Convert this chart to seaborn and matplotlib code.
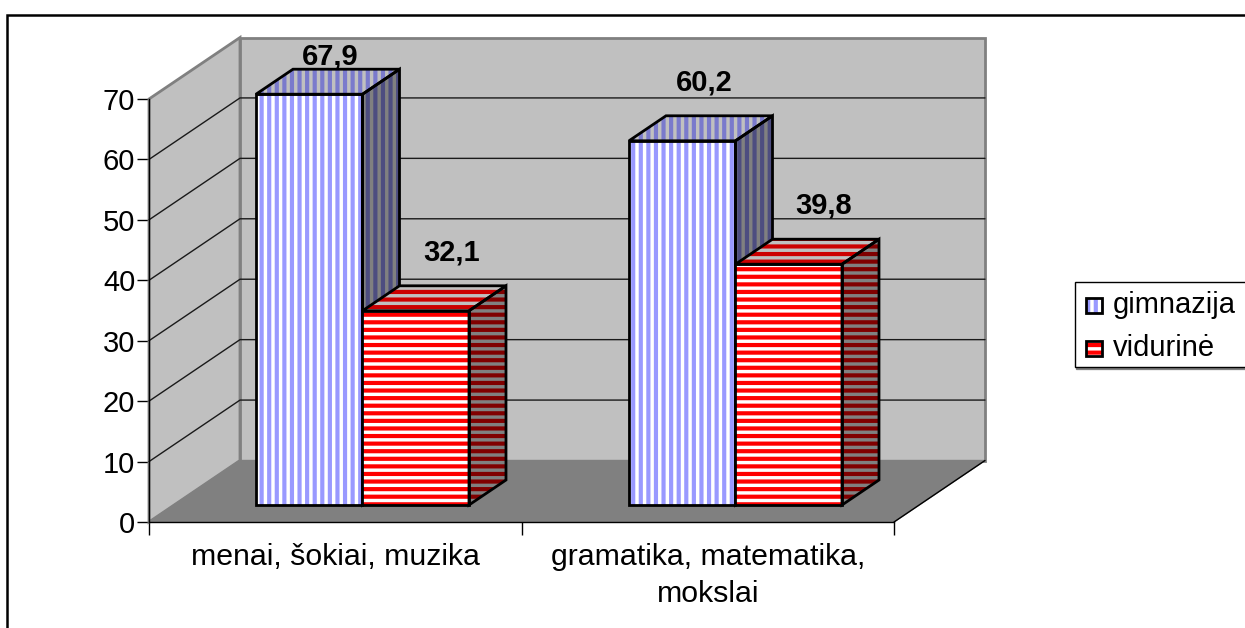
import matplotlib
matplotlib.use("Agg")
import matplotlib.pyplot as plt
import pandas as pd
import seaborn as sns

# values
categories = ["menai, šokiai, muzika", "gramatika, matematika,\nmokslai"]
gimnazija = [67.9, 60.2]
vidurine = [32.1, 39.8]
labels_g = ["67,9", "60,2"]
labels_v = ["32,1", "39,8"]
series = ["gimnazija", "vidurinė"]
yticks = [0, 10, 20, 30, 40, 50, 60, 70]

W, H = 1245, 628
DPI = 91  # hatch tile follows dpi, this gives the 7.6 px stripes
K = 100 / DPI
sns.set_theme(style="white")
plt.rcParams["font.family"] = ["Liberation Sans", "DejaVu Sans"]
plt.rcParams["hatch.linewidth"] = 3 * K

df = pd.DataFrame({
    "cat": categories * 2,
    "val": gimnazija + vidurine,
    "series": [series[0]] * 2 + [series[1]] * 2,
})


def rect(x0, y0, x1, y1):
    # pixels from top left -> figure fraction
    return [x0 / W, 1 - y1 / H, (x1 - x0) / W, (y1 - y0) / H]


fig = plt.figure(figsize=(W / DPI, H / DPI), dpi=DPI)
fig.patches.append(plt.Rectangle((7 / W, -0.01), 1.1, 1 - 15 / H + 0.01, transform=fig.transFigure,
                                 fc="white", ec="black", lw=1.8 * K, zorder=-1))

# walls, floor and axis
ax = fig.add_axes(rect(149, 99, 894, 522))
ax.set_facecolor("none")
ax.set_xlim(-0.5, 1.5)
ax.set_ylim(0, 70)
dx = 91 / 745 * 2
dy = 61.5 / 423 * 70
ax.fill([-0.5, -0.5 + dx, -0.5 + dx, -0.5], [0, dy, 70 + dy, 70], fc="#c0c0c0", ec="#808080", lw=2 * K, clip_on=False, zorder=1)
ax.fill([-0.5 + dx, 1.5 + dx, 1.5 + dx, -0.5 + dx], [dy, dy, 70 + dy, 70 + dy], fc="#c0c0c0", ec="#808080", lw=2 * K, clip_on=False, zorder=1)
ax.fill([-0.5, 1.5, 1.5 + dx, -0.5 + dx], [0, 0, dy, dy], fc="#808080", ec="#808080", lw=1 * K, clip_on=False, zorder=2)
ax.plot([1.5, 1.5 + dx], [0, dy], color="black", lw=1 * K, clip_on=False, zorder=3)
for v in yticks[1:-1]:
    ax.plot([-0.5, -0.5 + dx, 1.5 + dx], [v, v + dy, v + dy], color="#1a1a1a", lw=1 * K, clip_on=False, zorder=3)
for s in ["top", "right"]:
    ax.spines[s].set_visible(False)
for s in ["left", "bottom"]:
    ax.spines[s].set_linewidth(1 * K)
    ax.spines[s].set_color("black")
    ax.spines[s].set_zorder(4)
ax.set_yticks(yticks)
ax.set_xticks([-0.5, 0.5, 1.5])
ax.set_xticklabels([])
ax.set_xticks([0, 1], labels=categories, minor=True)
ax.tick_params(axis="y", length=9 * K, width=1 * K, color="black", labelsize=21 * K, pad=1, left=True, labelcolor="black")
ax.tick_params(axis="x", which="major", length=9 * K, width=1 * K, color="black", bottom=True)
ax.tick_params(axis="x", which="minor", length=0, labelsize=21.8 * K, pad=15 * K, labelcolor="black")
ax.get_xticklabels(minor=True)[1].set_linespacing(1.4)

# bars sit in their own axes, pushed back into the floor
bx = fig.add_axes(rect(176, 81.5, 922, 505))
bx.set_facecolor("none")
sns.barplot(data=df, x="cat", y="val", hue="series", order=categories, hue_order=series,
            width=0.571, gap=0, dodge=True, ax=bx, legend=False, saturation=1,
            palette=["white", "white"], zorder=5)
bx.set_xlim(-0.5, 1.5)
bx.set_ylim(0, 70)
bx.axis("off")

ddx = 37 / 373
ddy = 25 / 6.05
n = len(categories)
hatches = ["||", "--"]
front = ["#9999ff", "#ff0000"]
top_bg = ["#c0c0c0", "#c0c0c0"]
top_fg = ["#7a7acc", "#cc0000"]
side_bg = ["#808080", "#808080"]
side_fg = ["#4d4d80", "#800000"]
texts = labels_g + labels_v
# label offset from the bar's front centre / back top edge, in pixels
label_dx = [20.5, 21.5, 36, 34.5]
label_dy = [13, 33, 33, 34]
for i, bar in enumerate(bx.patches[:2 * n]):
    s = i // n
    z = 5 + 2 * s
    x0, x1, h = bar.get_x(), bar.get_x() + bar.get_width(), bar.get_height()
    bar.set_facecolor("white")
    bar.set_edgecolor(front[s])
    bar.set_hatch(hatches[s])
    bar.set_linewidth(0)
    bar.set_zorder(z)
    side_x = [x1, x1 + ddx, x1 + ddx, x1]
    side_y = [0, ddy, h + ddy, h]
    top_x = [x0, x1, x1 + ddx, x0 + ddx]
    top_y = [h, h, h + ddy, h + ddy]
    bx.fill(side_x, side_y, fc=side_bg[s], ec=side_fg[s], hatch=hatches[s], lw=0, zorder=z, clip_on=False)
    bx.fill(top_x, top_y, fc=top_bg[s], ec=top_fg[s], hatch=hatches[s], lw=0, zorder=z, clip_on=False)
    bx.fill(side_x, side_y, fill=False, ec="black", lw=2 * K, zorder=z + 1, clip_on=False)
    bx.fill(top_x, top_y, fill=False, ec="black", lw=2 * K, zorder=z + 1, clip_on=False)
    bx.fill([x0, x1, x1, x0], [0, 0, h, h], fill=False, ec="black", lw=2 * K, zorder=z + 1, clip_on=False)
    bx.annotate(texts[i], xy=((x0 + x1) / 2, h + ddy), xytext=(label_dx[i] * 72 / DPI, label_dy[i] * 72 / DPI),
                textcoords="offset points", ha="center", va="center", fontsize=21 * K, fontweight="bold",
                color="black", zorder=10, annotation_clip=False)

# legend
fig.patches.append(plt.Rectangle((1076 / W, 1 - 369 / H), 1, 85 / H, transform=fig.transFigure, fc="#808080", ec="#808080", zorder=2))
fig.patches.append(plt.Rectangle((1075 / W, 1 - 367.5 / H), 1, 85 / H, transform=fig.transFigure, fc="white", ec="black", lw=1 * K, zorder=3))
for s, (yc, name) in enumerate(zip([305, 348], series)):
    fig.patches.append(plt.Rectangle((1086 / W, 1 - (yc + 8) / H), 16 / W, 15 / H, transform=fig.transFigure,
                                     fc="white", ec=front[s], hatch=hatches[s], lw=0, zorder=4))
    fig.patches.append(plt.Rectangle((1086 / W, 1 - (yc + 8) / H), 16 / W, 15 / H, transform=fig.transFigure,
                                     fill=False, ec="black", lw=2 * K, zorder=5))
    fig.text(1113 / W, 1 - yc / H, name, fontsize=21 * K, color="black", va="center", ha="left", zorder=6)

fig.savefig("out.png", dpi=DPI)
